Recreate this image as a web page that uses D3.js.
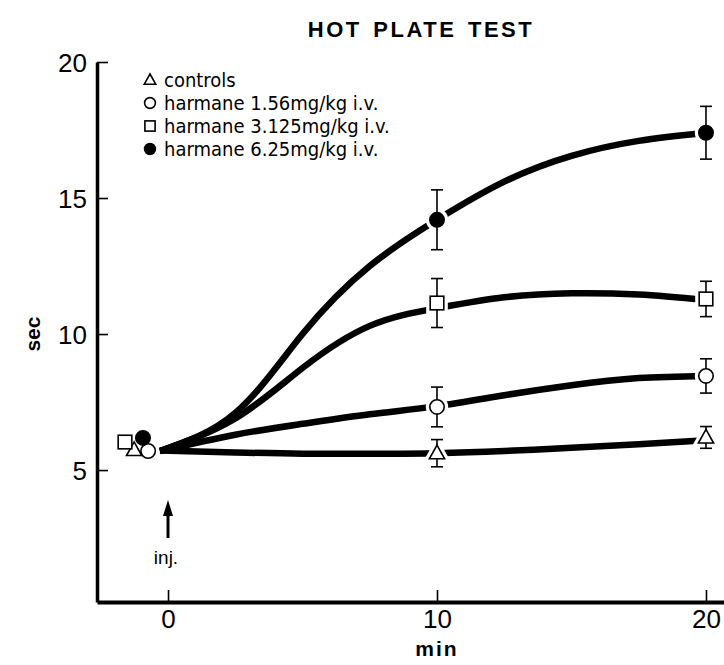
<!DOCTYPE html>
<meta charset="utf-8">
<style>
body { margin: 0; background: #fff; }
svg { font-family: "Liberation Sans", Arial, sans-serif; }
.axis path, .axis line { stroke: #000; }
.axis--y path { stroke-width: 3.5; }
.axis--x path { stroke-width: 4; }
.axis line { stroke-width: 1.6; }
.axis text { font-size: 26px; fill: #000; }
.curve { fill: none; stroke: #000; stroke-width: 6.5; stroke-linecap: butt; }
.err { stroke: #000; stroke-width: 1.6; }
.legend text { font-family: "Liberation Sans Narrow", "DejaVu Sans Condensed", sans-serif; font-size: 19px; }
</style>
<body>
<script src="https://d3js.org/d3.v7.min.js"></script>
<script>
// series
var names = ["controls", "harmane 1.56mg/kg i.v.", "harmane 3.125mg/kg i.v.", "harmane 6.25mg/kg i.v."];
var symbols = ["triangle", "open", "square", "filled"];

// pre-injection values (time offset, sec)
var baseT = [-1.26, -0.74, -1.6, -0.93];
var baseV = [5.74, 5.7, 6.03, 6.18];

// measured means and SE at 10 and 20 min
var times = [10, 20];
var controls = [5.62, 6.2],  controlsErr = [0.5, 0.4];
var h156 = [7.32, 8.46],     h156Err = [0.73, 0.63];
var h3125 = [11.14, 11.29],  h3125Err = [0.9, 0.65];
var h625 = [14.2, 17.4],     h625Err = [1.1, 0.97];

// hand drawn curves
var curveT = [-0.3, 2.5, 5, 7.5, 10, 12.5, 15, 17.5, 20];
var controlsCurve = [5.72, 5.65, 5.6, 5.6, 5.62, 5.7, 5.82, 5.95, 6.1];
var h156Curve = [5.7, 6.3, 6.7, 7.05, 7.35, 7.75, 8.12, 8.38, 8.46];
var h3125Curve = [5.7, 6.9, 8.75, 10.3, 10.95, 11.35, 11.5, 11.45, 11.25];
var h625Curve = [5.7, 7.1, 10.0, 12.5, 14.2, 15.6, 16.55, 17.1, 17.4];

var xTicks = [0, 10, 20], yTicks = [5, 10, 15, 20];

var means = [controls, h156, h3125, h625];
var errs = [controlsErr, h156Err, h3125Err, h625Err];
var curves = [controlsCurve, h156Curve, h3125Curve, h625Curve];

var W = 724, H = 665;
var svg = d3.select("body").append("svg").attr("width", W).attr("height", H);

var x = d3.scaleLinear().domain([-2.64, 20.67]).range([97, 724]),
    y = d3.scaleLinear().domain([0.15, 20]).range([602, 62]);

svg.append("text")
    .attr("x", 421).attr("y", 37)
    .attr("text-anchor", "middle")
    .style("font-size", "22px").style("font-weight", "bold")
    .style("letter-spacing", "2.5px").style("word-spacing", "3px")
    .text("HOT PLATE  TEST");

svg.append("g")
    .attr("class", "axis axis--y")
    .attr("transform", "translate(" + x.range()[0] + ",0)")
    .call(d3.axisLeft(y).tickValues(yTicks).tickSizeInner(-11).tickSizeOuter(0).tickPadding(10))
    .call(function(g) { g.selectAll("text").attr("dy", "0.36em"); });

svg.append("g")
    .attr("class", "axis axis--x")
    .attr("transform", "translate(0," + y.range()[0] + ")")
    .call(d3.axisBottom(x).tickValues(xTicks).tickSizeInner(-12).tickSizeOuter(0).tickPadding(8));

svg.append("text")
    .attr("transform", "translate(40," + y(10) + ") rotate(-90)")
    .attr("text-anchor", "middle")
    .style("font-size", "21px").style("font-weight", "bold")
    .text("sec");

svg.append("text")
    .attr("x", x(10)).attr("y", 656)
    .attr("text-anchor", "middle")
    .style("font-size", "21px").style("font-weight", "bold").style("letter-spacing", "2px")
    .text("min");

// injection arrow
svg.append("line")
    .attr("x1", x(0)).attr("x2", x(0))
    .attr("y1", 512).attr("y2", 538)
    .attr("stroke", "#000").attr("stroke-width", 3);
svg.append("path")
    .attr("d", "M" + x(0) + ",500 l-5,16 l10,0 z")
    .attr("fill", "#000");
svg.append("text")
    .attr("x", x(0) - 2).attr("y", 564)
    .attr("text-anchor", "middle")
    .style("font-size", "19px")
    .text("inj.");

var line = d3.line()
    .x(function(d) { return x(d[0]); })
    .y(function(d) { return y(d[1]); })
    .curve(d3.curveNatural);

curves.forEach(function(c) {
  svg.append("path")
      .attr("class", "curve")
      .attr("d", line(curveT.map(function(t, i) { return [t, c[i]]; })));
});

function drawSymbol(g, kind, cx, cy, s, halo) {
  var node;
  if (kind === "triangle") {
    node = g.append("path").attr("d", "M" + cx + "," + (cy - s) + " L" + (cx + s * 0.95) + "," + (cy + s * 0.7) + " L" + (cx - s * 0.95) + "," + (cy + s * 0.7) + " Z");
  } else if (kind === "square") {
    node = g.append("rect").attr("x", cx - s * 0.85).attr("y", cy - s * 0.85).attr("width", s * 1.7).attr("height", s * 1.7);
  } else {
    node = g.append("circle").attr("cx", cx).attr("cy", cy).attr("r", s * 0.9);
  }
  if (halo) {
    node.attr("fill", "#fff").attr("stroke", "#fff").attr("stroke-width", 8);
  } else {
    node.attr("fill", kind === "filled" ? "#000" : "#fff").attr("stroke", "#000").attr("stroke-width", 1.6);
  }
}

var pts = svg.append("g");
means.forEach(function(m, k) {
  times.forEach(function(t, i) {
    drawSymbol(pts, symbols[k], x(t), y(m[i]), 8, true);
  });
});
means.forEach(function(m, k) {
  times.forEach(function(t, i) {
    var cx = x(t), lo = y(m[i] - errs[k][i]), hi = y(m[i] + errs[k][i]);
    pts.append("line").attr("class", "err").attr("x1", cx).attr("x2", cx).attr("y1", lo).attr("y2", hi);
    pts.append("line").attr("class", "err").attr("x1", cx - 6).attr("x2", cx + 6).attr("y1", lo).attr("y2", lo);
    pts.append("line").attr("class", "err").attr("x1", cx - 6).attr("x2", cx + 6).attr("y1", hi).attr("y2", hi);
    drawSymbol(pts, symbols[k], cx, y(m[i]), 8, false);
  });
  drawSymbol(pts, symbols[k], x(baseT[k]), y(baseV[k]), 8, false);
});

var leg = svg.append("g").attr("class", "legend");
names.forEach(function(n, k) {
  var ly = 80 + k * 23;
  drawSymbol(leg, symbols[k], 150, ly, 6, false);
  leg.append("text").attr("x", 164).attr("y", ly).attr("dy", "0.35em")
      .style("font-size", "20px").text(n);
});
</script>
</body>
